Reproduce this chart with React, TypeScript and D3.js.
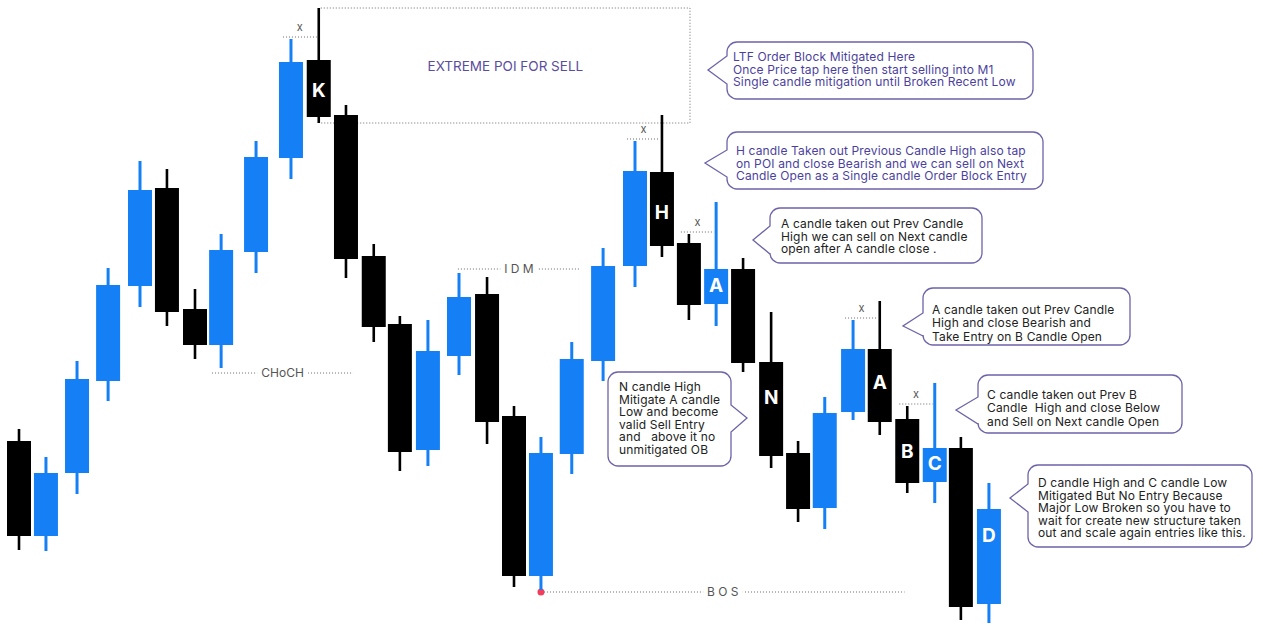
import React from "react";
import * as d3 from "d3";

// ---- Data (prices; arbitrary units) ----
const SLOT = [0, 0.98, 2.11, 3.24, 4.4, 5.38, 6.4, 7.35, 8.62, 9.89, 10.9, 11.89, 12.9, 13.85, 14.87, 16, 17.02, 18, 18.98, 20.1, 21.24, 22.4, 23.38, 24.36, 25.35, 26.33, 27.35, 28.33, 29.3, 30.33, 31.3, 32.3, 33.3, 34.25, 35.27];
const OPEN = [199, 104, 167, 259, 354, 452, 331, 295, 388, 482, 580, 525, 384, 316, 190, 284, 346, 224, 64, 186, 279, 374, 468, 397, 336, 371, 278, 187, 132, 228, 291, 221, 158, 192, 36];
const HIGH = [211, 183, 279, 372, 479, 471, 351, 406, 499, 601, 632, 535, 396, 324, 320, 367, 363, 234, 203, 298, 392, 499, 525, 406, 438, 382, 328, 199, 243, 320, 339, 234, 257, 203, 157];
const LOW = [90, 89, 146, 239, 333, 314, 281, 272, 367, 461, 517, 362, 298, 169, 174, 265, 196, 53, 50, 166, 259, 353, 383, 320, 314, 268, 172, 118, 111, 220, 205, 147, 137, 20, 17];
const CLOSE = [104, 167, 261, 355, 450, 328, 295, 390, 483, 578, 523, 381, 313, 188, 289, 343, 218, 64, 187, 281, 374, 469, 394, 335, 371, 277, 184, 131, 227, 291, 218, 157, 192, 33, 131];

// candle letter labels: candle index, letter, price position
const LABEL_IDX = [10, 22, 24, 26, 30, 31, 32, 34];
const LABEL_TXT = ["K", "H", "A", "N", "A", "B", "C", "D"];
const LABEL_PRICE = [550, 428, 355, 243, 258, 189, 177, 105];

// "x" sweeps: previous candle index whose high is taken by next
const SWEEP_PREV = [9, 21, 23, 29, 31];

// structure levels
const LEVEL_NAME = ["CHoCH", "I D M", "B O S"];
const LEVEL_PRICE = [267, 371, 48];
const LEVEL_FROM = [7.02, 15.96, 18.98];
const LEVEL_TO = [12.15, 20.4, 32.2];

// POI zone
const POI_CANDLE = 10;
const POI_END = 24.4;
const POI_TEXT = "EXTREME POI FOR SELL";

const NOTES = [
  ["LTF Order Block Mitigated Here", "Once Price tap here then start selling into M1", "Single candle mitigation until Broken Recent Low"],
  ["H candle Taken out Previous Candle High also tap", "on POI and close Bearish and we can sell on Next", "Candle Open as a Single candle Order Block Entry"],
  ["A candle taken out Prev Candle", "High we can sell on Next candle", "open after A candle close ."],
  ["N candle High", "Mitigate A candle", "Low and become", "valid Sell Entry", "and   above it no", "unmitigated OB"],
  ["A candle taken out Prev Candle", "High and close Bearish and", "Take Entry on B Candle Open"],
  ["C candle taken out Prev B", "Candle  High and close Below", "and Sell on Next candle Open"],
  ["D candle High and C candle Low", "Mitigated But No Entry Because", "Major Low Broken so you have to", "wait for create new structure taken", "out and scale again entries like this."],
];

// ---- Layout of annotation bubbles ----
type Box = { x: number; y: number; w: number; h: number; side: "l" | "r"; tx: number; ty: number; b1: number; b2: number; textX: number; base: number; lh: number; color: string };
const BOXES: Box[] = [
  { x: 727, y: 42, w: 306, h: 57, side: "l", tx: 708, ty: 70, b1: 56, b2: 84, textX: 733, base: 61, lh: 12.6, color: "#4b3f9e" },
  { x: 727, y: 132, w: 316, h: 57, side: "l", tx: 705, ty: 163, b1: 150, b2: 177, textX: 736, base: 155, lh: 12.6, color: "#4b3f9e" },
  { x: 770, y: 208, w: 212, h: 55, side: "l", tx: 753, ty: 240, b1: 226, b2: 254, textX: 781, base: 228, lh: 12.6, color: "#222" },
  { x: 608, y: 372, w: 123, h: 94, side: "r", tx: 747, ty: 418, b1: 405, b2: 432, textX: 619, base: 391, lh: 12.6, color: "#222" },
  { x: 923, y: 288, w: 207, h: 57, side: "l", tx: 903, ty: 326, b1: 313, b2: 336, textX: 932, base: 314, lh: 13.3, color: "#222" },
  { x: 978, y: 375, w: 204, h: 58, side: "l", tx: 956, ty: 410, b1: 397, b2: 424, textX: 987, base: 399, lh: 13.3, color: "#222" },
  { x: 1028, y: 465, w: 224, h: 82, side: "l", tx: 1010, ty: 498, b1: 484, b2: 512, textX: 1038, base: 487, lh: 12.6, color: "#222" },
];

const W = 1263;
const H = 626;
const BLUE = "#1580f6";
const DOT = "#6b6b6b";
const FONT = "Inter, 'Noto Sans', sans-serif";

function bubblePath(b: Box, r = 10) {
  const { x, y, w, h } = b;
  if (b.side === "l") {
    return `M${x + r},${y} H${x + w - r} A${r},${r} 0 0 1 ${x + w},${y + r} V${y + h - r} A${r},${r} 0 0 1 ${x + w - r},${y + h} H${x + r} A${r},${r} 0 0 1 ${x},${y + h - r} V${b.b2} L${b.tx},${b.ty} L${x},${b.b1} V${y + r} A${r},${r} 0 0 1 ${x + r},${y} Z`;
  }
  return `M${x + r},${y} H${x + w - r} A${r},${r} 0 0 1 ${x + w},${y + r} V${b.b1} L${b.tx},${b.ty} L${x + w},${b.b2} V${y + h - r} A${r},${r} 0 0 1 ${x + w - r},${y + h} H${x + r} A${r},${r} 0 0 1 ${x},${y + h - r} V${y + r} A${r},${r} 0 0 1 ${x + r},${y} Z`;
}

export default function App() {
  const x = d3.scaleLinear().domain([0, 40]).range([19, 19 + 27.5 * 40]);
  const y = d3.scaleLinear().domain([0, 640]).range([640, 0]);
  const bw = 24;

  const candles = SLOT.map((t, i) => ({ t, o: OPEN[i], h: HIGH[i], l: LOW[i], c: CLOSE[i] }));

  return (
    <svg width={W} height={H} style={{ position: "absolute", left: 0, top: 0, background: "#fff" }} fontFamily={FONT}>
      <rect width={W} height={H} fill="#fff" />
      {/* POI zone */}
      {(() => {
        const k = candles[POI_CANDLE];
        const x1 = x(k.t) + 2;
        const x2 = x(POI_END);
        const yt = y(k.h);
        const yb = y(k.l);
        return (
          <g>
            <path d={`M${x1},${yt} H${x2} V${yb} H${x1}`} fill="none" stroke={DOT} strokeWidth={1} strokeDasharray="1 2" />
            <text x={(x1 + x2) / 2} y={(yt + yb) / 2 + 5} textAnchor="middle" fontSize={13.5} fill="#5a4c9c">{POI_TEXT}</text>
          </g>
        );
      })()}

      {/* structure levels */}
      {LEVEL_NAME.map((name, i) => {
        const x1 = x(LEVEL_FROM[i]);
        const x2 = x(LEVEL_TO[i]);
        const yy = y(LEVEL_PRICE[i]);
        return (
          <g key={name}>
            <line x1={x1} x2={x2} y1={yy} y2={yy} stroke={DOT} strokeWidth={1} strokeDasharray="1 2" />
            <text x={(x1 + x2) / 2} y={yy + 4} textAnchor="middle" fontSize={12} fill="#555" stroke="#fff" strokeWidth={10} paintOrder="stroke">{name}</text>
          </g>
        );
      })}
      <circle cx={x(LEVEL_FROM[2])} cy={y(LEVEL_PRICE[2])} r={3.5} fill="#ef3f5c" />

      {/* sweep marks */}
      {SWEEP_PREV.map((p) => {
        const x1 = x(candles[p].t) - 8;
        const x2 = x(candles[p + 1].t) - 2;
        const yy = y(candles[p].h) - 2;
        return (
          <g key={p}>
            <line x1={x1} x2={x2} y1={yy} y2={yy} stroke={DOT} strokeWidth={1} strokeDasharray="1 2" />
            <text x={(x1 + x2) / 2} y={yy - 6} textAnchor="middle" fontSize={11} fill="#555">x</text>
          </g>
        );
      })}

      {/* candles */}
      {candles.map((d, i) => {
        const up = d.c >= d.o;
        const col = up ? BLUE : "#000";
        const cx = x(d.t);
        const top = y(Math.max(d.o, d.c));
        const bot = y(Math.min(d.o, d.c));
        return (
          <g key={i}>
            <line x1={cx} x2={cx} y1={y(d.h)} y2={y(d.l)} stroke={col} strokeWidth={up ? 3 : 2.6} />
            <rect x={cx - bw / 2} y={top} width={bw} height={Math.max(1, bot - top)} fill={col} />
          </g>
        );
      })}

      {/* candle letters */}
      {LABEL_IDX.map((ci, i) => (
        <text key={i} x={x(candles[ci].t)} y={y(LABEL_PRICE[i]) + 7} textAnchor="middle" fontSize={19} fontWeight={700} fill="#fff">
          {LABEL_TXT[i]}
        </text>
      ))}

      {/* callouts */}
      {BOXES.map((b, i) => (
        <g key={i}>
          <path d={bubblePath(b)} fill="#fff" stroke="#6e63a8" strokeWidth={1.3} />
          <text fontSize={12} fill={b.color} letterSpacing={0.15}>
            {NOTES[i].map((line, j) => (
              <tspan key={j} x={b.textX} y={b.base + j * b.lh} style={{ whiteSpace: "pre" }}>{line}</tspan>
            ))}
          </text>
        </g>
      ))}
    </svg>
  );
}
